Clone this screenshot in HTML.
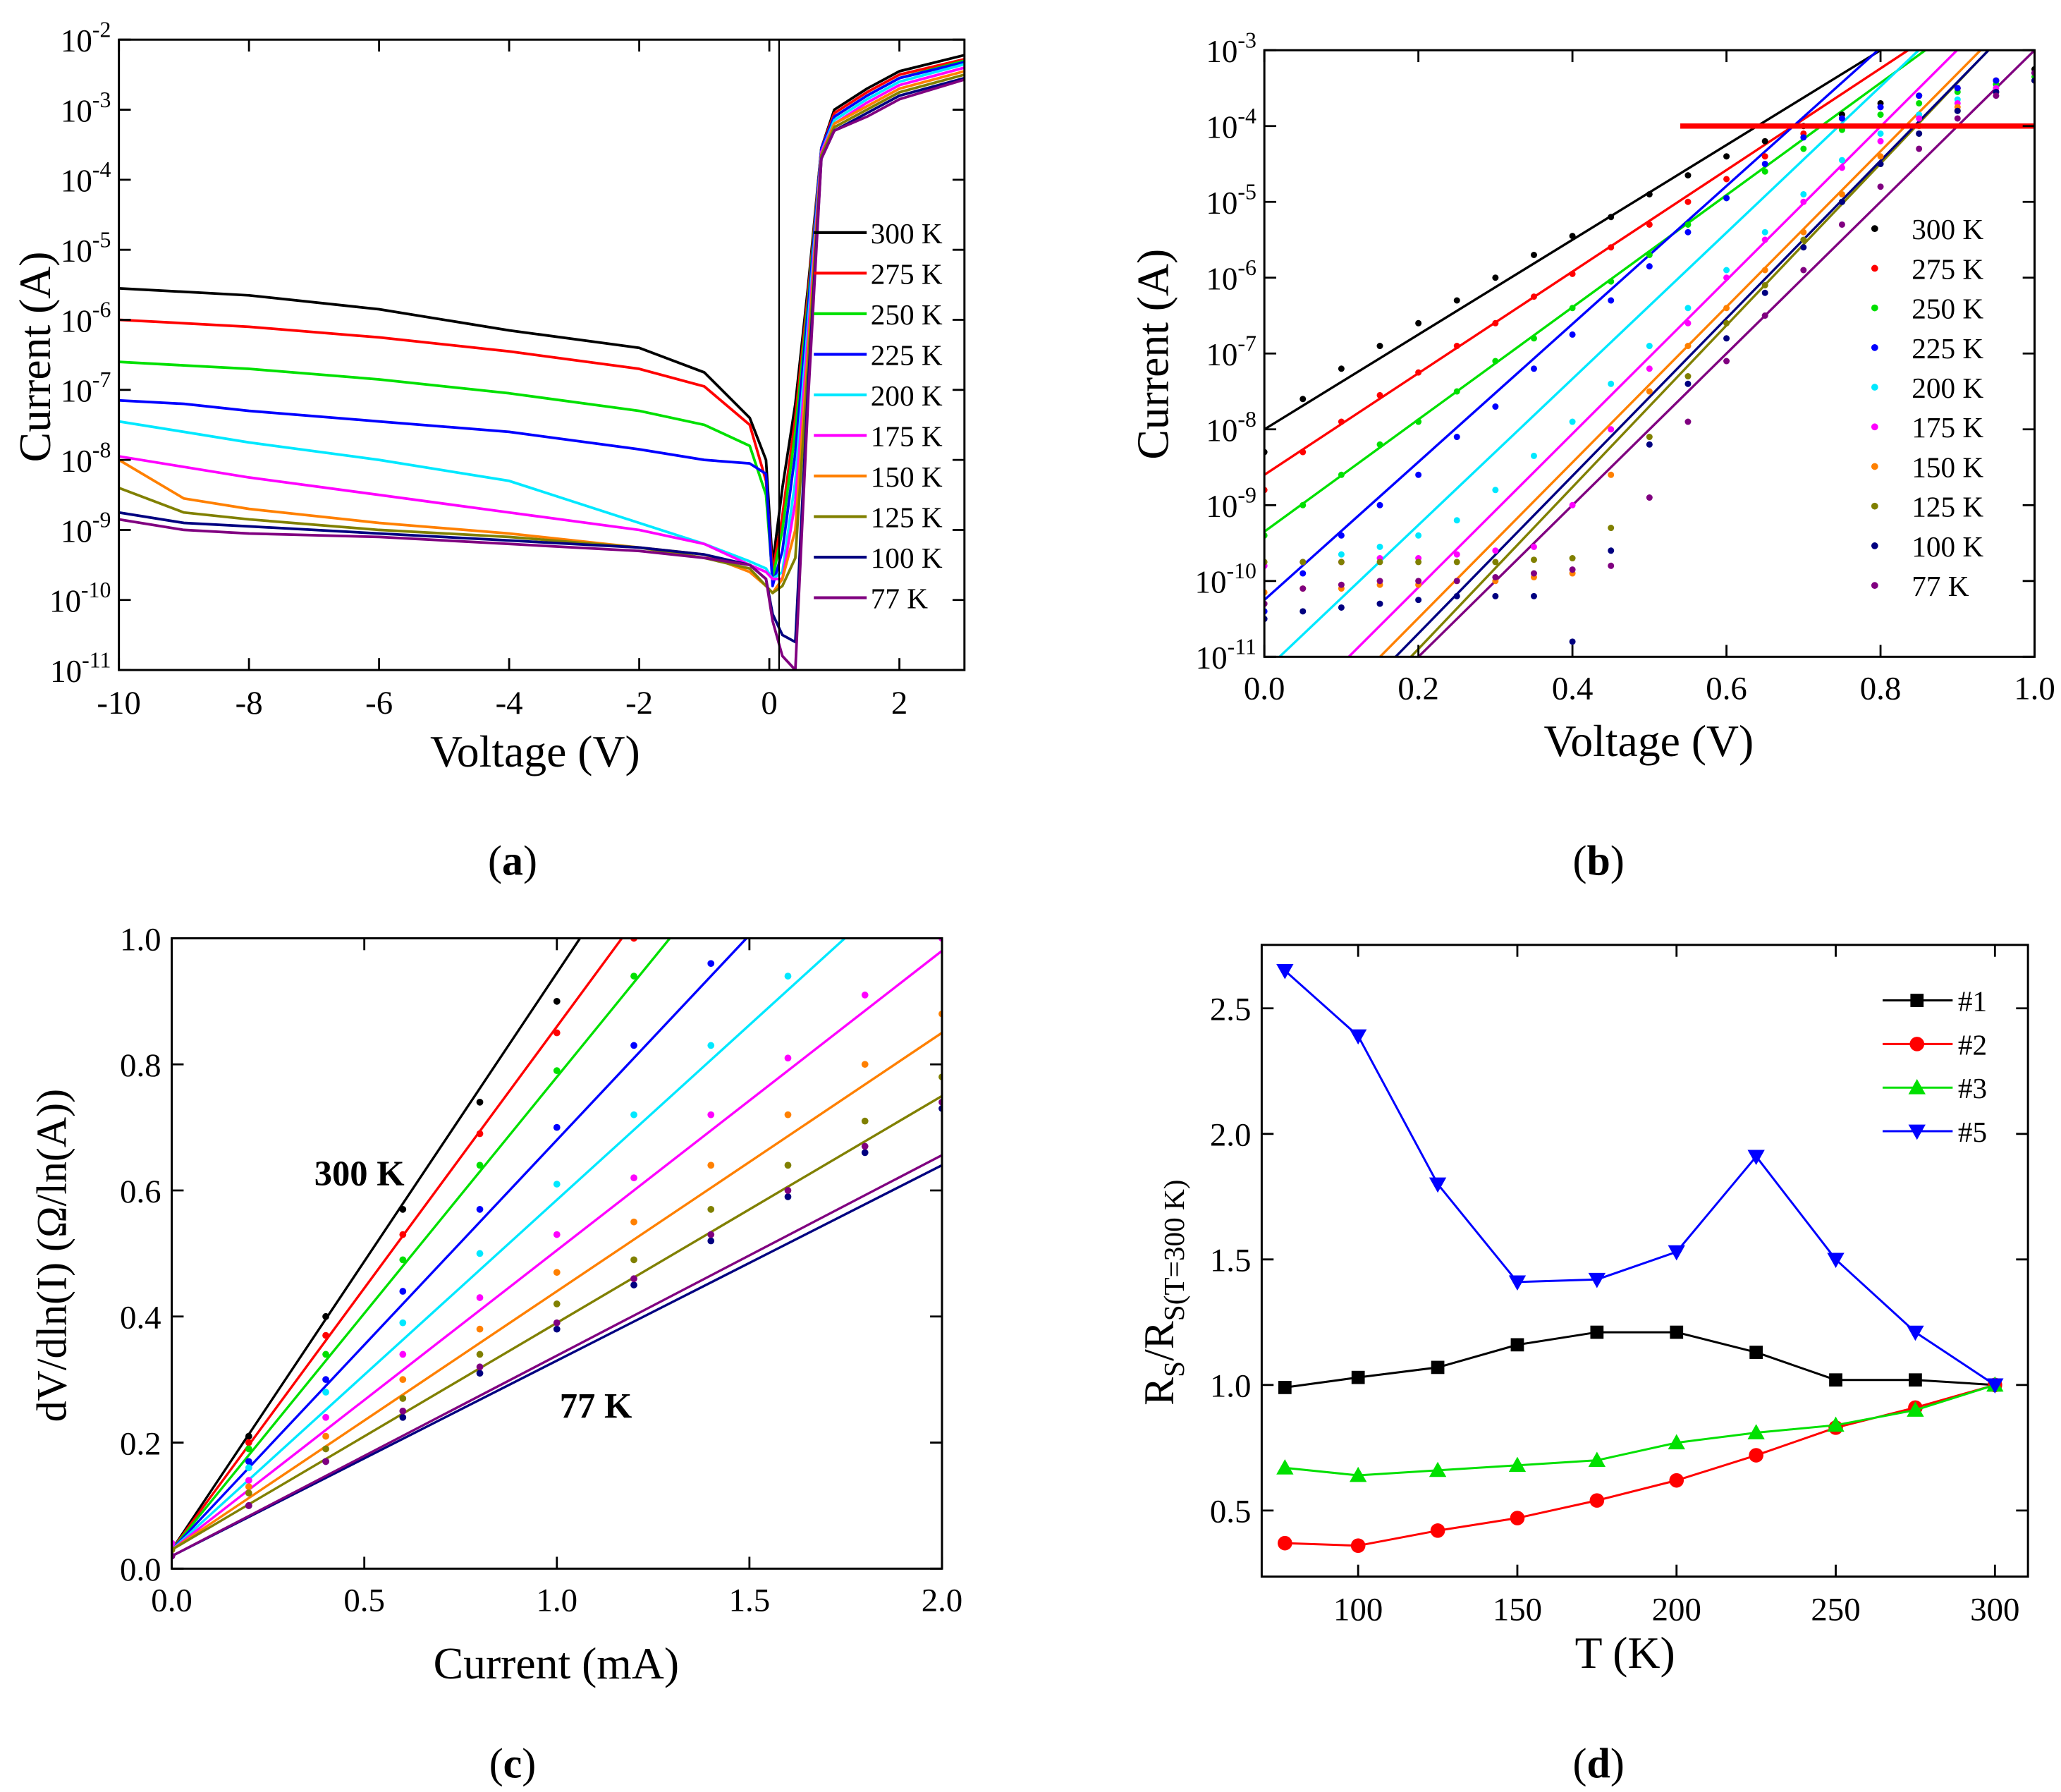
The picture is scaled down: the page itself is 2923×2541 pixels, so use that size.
<!DOCTYPE html>
<html><head><meta charset="utf-8"><title>I-V characteristics</title>
<style>
html,body{margin:0;padding:0;background:#fff;}
svg{display:block;font-family:"Liberation Serif",serif;}
</style></head>
<body>
<svg id="fig" width="2923" height="2541" viewBox="0 0 1560 1356" preserveAspectRatio="none" xmlns="http://www.w3.org/2000/svg"></svg>
<script>
// ---------- shared data ----------
const seriesNames = ["300 K","275 K","250 K","225 K","200 K","175 K","150 K","125 K","100 K","77 K"];
const seriesColors = ["#000000","#ff0000","#00e000","#0000ff","#00e8ff","#ff00ff","#ff8000","#808000","#000080","#800080"];

// Panel (a): voltages and log10(I) values
const aVolts = [-10,-9,-8,-6,-4,-2,-1,-0.3,-0.05,0.05,0.2,0.4,0.6,0.8,1.0,1.5,2,3];
const aLog300 = [-5.55,-5.6,-5.65,-5.85,-6.15,-6.4,-6.75,-7.4,-8.0,-9.5,-8.4,-7.2,-5.5,-3.55,-3.0,-2.7,-2.45,-2.22];
const aLog275 = [-6.0,-6.05,-6.1,-6.25,-6.45,-6.7,-6.95,-7.5,-8.3,-9.6,-8.8,-7.4,-5.6,-3.55,-3.05,-2.75,-2.5,-2.28];
const aLog250 = [-6.6,-6.65,-6.7,-6.85,-7.05,-7.3,-7.5,-7.8,-8.5,-9.7,-9.0,-7.6,-5.7,-3.55,-3.1,-2.8,-2.55,-2.3];
const aLog225 = [-7.15,-7.2,-7.3,-7.45,-7.6,-7.85,-8.0,-8.05,-8.2,-9.8,-9.3,-7.9,-5.8,-3.55,-3.1,-2.8,-2.55,-2.32];
const aLog200 = [-7.45,-7.6,-7.75,-8.0,-8.3,-8.9,-9.2,-9.45,-9.55,-9.7,-9.6,-8.3,-6.0,-3.6,-3.15,-2.85,-2.6,-2.35];
const aLog175 = [-7.95,-8.1,-8.25,-8.5,-8.75,-9.0,-9.2,-9.5,-9.6,-9.7,-9.7,-8.6,-6.2,-3.6,-3.2,-2.9,-2.65,-2.4];
const aLog150 = [-8.0,-8.55,-8.7,-8.9,-9.05,-9.25,-9.35,-9.6,-9.8,-9.9,-9.7,-9.0,-6.4,-3.65,-3.2,-2.95,-2.7,-2.45];
const aLog125 = [-8.4,-8.75,-8.85,-9.0,-9.1,-9.25,-9.4,-9.55,-9.8,-9.9,-9.8,-9.4,-6.6,-3.65,-3.25,-3.0,-2.75,-2.5];
const aLog100 = [-8.75,-8.9,-8.95,-9.05,-9.15,-9.25,-9.35,-9.5,-9.7,-10.2,-10.5,-10.6,-6.9,-3.7,-3.3,-3.05,-2.8,-2.55];
const aLog77  = [-8.85,-9.0,-9.05,-9.1,-9.2,-9.3,-9.4,-9.5,-9.7,-10.3,-10.8,-11,-7.1,-3.7,-3.3,-3.1,-2.85,-2.57];
const aSeries = [aLog300,aLog275,aLog250,aLog225,aLog200,aLog175,aLog150,aLog125,aLog100,aLog77];
const aXTicks = [-10,-8,-6,-4,-2,0,2];
const aYTicks = [-11,-10,-9,-8,-7,-6,-5,-4,-3,-2];

// Panel (b): measured log10(I) at V = 0..1 step 0.05, and fits (intercept, slope per V)
const bVolts = [0,0.05,0.1,0.15,0.2,0.25,0.3,0.35,0.4,0.45,0.5,0.55,0.6,0.65,0.7,0.75,0.8,0.85,0.9,0.95,1.0];
const bLog300 = [-8.3,-7.6,-7.2,-6.9,-6.6,-6.3,-6.0,-5.7,-5.45,-5.2,-4.9,-4.65,-4.4,-4.2,-4.0,-3.85,-3.7,-3.6,-3.5,-3.4,-3.25];
const bLog275 = [-8.8,-8.3,-7.9,-7.55,-7.25,-6.9,-6.6,-6.25,-5.95,-5.6,-5.3,-5.0,-4.7,-4.4,-4.1,-3.9,-3.75,-3.6,-3.5,-3.4,-3.3];
const bLog250 = [-9.4,-9.0,-8.6,-8.2,-7.9,-7.5,-7.1,-6.8,-6.4,-6.05,-5.7,-5.3,-4.95,-4.6,-4.3,-4.05,-3.85,-3.7,-3.55,-3.45,-3.35];
const bLog225 = [-10.4,-9.9,-9.4,-9.0,-8.6,-8.1,-7.7,-7.2,-6.75,-6.3,-5.85,-5.4,-4.95,-4.5,-4.15,-3.9,-3.75,-3.6,-3.5,-3.4,-3.3];
const bLog200 = [-9.8,-9.75,-9.65,-9.55,-9.4,-9.2,-8.8,-8.35,-7.9,-7.4,-6.9,-6.4,-5.9,-5.4,-4.9,-4.45,-4.1,-3.85,-3.65,-3.5,-3.4];
const bLog175 = [-9.8,-9.75,-9.75,-9.7,-9.7,-9.65,-9.6,-9.55,-9.0,-8.0,-7.2,-6.6,-6.0,-5.5,-5.0,-4.55,-4.2,-3.9,-3.7,-3.5,-3.4];
const bLog150 = [-10.15,-10.1,-10.1,-10.05,-10.05,-10.0,-10.0,-9.95,-9.9,-8.6,-7.5,-6.9,-6.4,-5.9,-5.4,-4.9,-4.4,-4.0,-3.75,-3.55,-3.4];
const bLog125 = [-9.75,-9.75,-9.75,-9.75,-9.75,-9.75,-9.75,-9.72,-9.7,-9.3,-8.1,-7.3,-6.6,-6.1,-5.5,-5.0,-4.5,-4.1,-3.8,-3.55,-3.4];
const bLog100 = [-10.5,-10.4,-10.35,-10.3,-10.25,-10.2,-10.2,-10.2,-10.8,-9.6,-8.2,-7.4,-6.8,-6.2,-5.6,-5.0,-4.5,-4.1,-3.8,-3.55,-3.4];
const bLog77  = [-10.3,-10.1,-10.05,-10.0,-10.0,-10.0,-9.95,-9.9,-9.85,-9.8,-8.9,-7.9,-7.1,-6.5,-5.9,-5.3,-4.8,-4.3,-3.9,-3.6,-3.3];
const bSeries = [bLog300,bLog275,bLog250,bLog225,bLog200,bLog175,bLog150,bLog125,bLog100,bLog77];
const bFitIntercept = [-8.0,-8.6,-9.35,-10.25,-11.19,-12.11,-12.54,-13.03,-12.77,-13.0];
const bFitSlope = [6.25,6.7,7.4,9.1,9.64,10.13,10.26,10.67,10.39,10.0];
const bRefLevel = -4;   // red horizontal reference at 1e-4 A
const bRefStart = 0.54;
const bXTicks = [0,0.2,0.4,0.6,0.8,1.0];
const bYTicks = [-11,-10,-9,-8,-7,-6,-5,-4,-3];

// Panel (c): measured dV/dlnI at I = 0..2 mA step 0.2, fits (intercept, slope)
const cCurrents = [0,0.2,0.4,0.6,0.8,1.0,1.2,1.4,1.6,1.8,2.0];
const c300 = [0.04,0.21,0.40,0.57,0.74,0.90,1.08,1.2,1.2,1.2,1.2];
const c275 = [0.04,0.20,0.37,0.53,0.69,0.85,1.0,1.2,1.2,1.2,1.2];
const c250 = [0.04,0.19,0.34,0.49,0.64,0.79,0.94,1.2,1.2,1.2,1.2];
const c225 = [0.04,0.17,0.30,0.44,0.57,0.70,0.83,0.96,1.2,1.2,1.2];
const c200 = [0.04,0.16,0.28,0.39,0.50,0.61,0.72,0.83,0.94,1.2,1.2];
const c175 = [0.04,0.14,0.24,0.34,0.43,0.53,0.62,0.72,0.81,0.91,1.0];
const c150 = [0.03,0.13,0.21,0.30,0.38,0.47,0.55,0.64,0.72,0.80,0.88];
const c125 = [0.03,0.12,0.19,0.27,0.34,0.42,0.49,0.57,0.64,0.71,0.78];
const c100 = [0.02,0.10,0.17,0.24,0.31,0.38,0.45,0.52,0.59,0.66,0.73];
const c77  = [0.02,0.10,0.17,0.25,0.32,0.39,0.46,0.53,0.60,0.67,0.74];
const cSeries = [c300,c275,c250,c225,c200,c175,c150,c125,c100,c77];
const cFitIntercept = [0.03,0.03,0.03,0.03,0.03,0.03,0.03,0.03,0.02,0.02];
const cFitSlope = [0.915,0.83,0.75,0.65,0.555,0.475,0.41,0.36,0.31,0.318];
const cXTicks = [0,0.5,1.0,1.5,2.0];
const cYTicks = [0,0.2,0.4,0.6,0.8,1.0];

// Panel (d)
const dTemps = [77,100,125,150,175,200,225,250,275,300];
const dS1 = [0.99,1.03,1.07,1.16,1.21,1.21,1.13,1.02,1.02,1.0];
const dS2 = [0.37,0.36,0.42,0.47,0.54,0.62,0.72,0.83,0.91,1.0];
const dS3 = [0.67,0.64,0.66,0.68,0.70,0.77,0.81,0.84,0.90,1.0];
const dS5 = [2.65,2.39,1.80,1.41,1.42,1.53,1.91,1.50,1.21,1.0];
const dNames = ["#1","#2","#3","#5"];
const dXTicks = [100,150,200,250,300];
const dYTicks = [0.5,1.0,1.5,2.0,2.5];

// ---------- helpers ----------
const NS = "http://www.w3.org/2000/svg";
const svg = document.getElementById("fig");
function el(tag, attrs, parent, text){
  const e = document.createElementNS(NS, tag);
  for (const k in attrs) e.setAttribute(k, attrs[k]);
  if (text !== undefined) e.textContent = text;
  (parent||svg).appendChild(e);
  return e;
}
function group(name){
  const g = document.createElementNS(NS,"g");
  
  
  svg.appendChild(g);
  return g;
}
function powText(g, x, y, exp, anchor, name){
  const t = el("text",{x:x,y:y,"font-size":24,"text-anchor":anchor||"end"},g);
  
  
  const a = document.createElementNS(NS,"tspan"); a.textContent="10"; t.appendChild(a);
  const b = document.createElementNS(NS,"tspan"); b.setAttribute("dy","-11"); b.setAttribute("font-size","17"); b.textContent=String(exp); t.appendChild(b);
  return t;
}
function frame(g,x0,y0,x1,y1){
  el("rect",{x:x0,y:y0,width:x1-x0,height:y1-y0,fill:"none",stroke:"#000","stroke-width":1.6},g);
}
function label(g, x, y, txt, size, name, extra){
  const a = Object.assign({x:x,y:y,"font-size":size,"text-anchor":"middle"}, extra||{});
  const t = el("text",a,g,txt);
  
  
  return t;
}
function poly(g, pts, color, w, name){
  const p = el("polyline",{points:pts.map(p=>p[0].toFixed(1)+","+p[1].toFixed(1)).join(" "),fill:"none",stroke:color,"stroke-width":w,"stroke-linejoin":"round"},g);
  
  
  return p;
}

// ================= Panel (a) =================
(function(){
  const g = group("panel-a");
  const X0=90,X1=730,Y0=30,Y1=507;
  const xa = v => X0 + (v+10)/13*(X1-X0);
  const ya = l => Y0 + (-2-l)/9*(Y1-Y0);
  const clip = el("clipPath",{id:"clipA"},g);
  el("rect",{x:X0,y:Y0,width:X1-X0,height:Y1-Y0},clip);
  const plot = el("g",{"clip-path":"url(#clipA)"},g);
  aSeries.forEach((s,i)=>{
    poly(plot, aVolts.map((v,k)=>[xa(v),ya(s[k])]), seriesColors[i], 2, "iv-curve-"+seriesNames[i].replace(" ","").toLowerCase());
  });
  // vertical line near zero
  const vl = el("line",{x1:xa(0.15),y1:Y0,x2:xa(0.15),y2:Y1,stroke:"#000","stroke-width":1.2},plot);
  
  
  frame(g,X0,Y0,X1,Y1);
  aXTicks.forEach(v=>{
    el("line",{x1:xa(v),y1:Y1,x2:xa(v),y2:Y1-9,stroke:"#000","stroke-width":1.5},g);
    el("line",{x1:xa(v),y1:Y0,x2:xa(v),y2:Y0+9,stroke:"#000","stroke-width":1.5},g);
    label(g, xa(v), Y1+33, String(v), 25, "x-tick-label");
  });
  aYTicks.forEach(l=>{
    el("line",{x1:X0,y1:ya(l),x2:X0+9,y2:ya(l),stroke:"#000","stroke-width":1.5},g);
    el("line",{x1:X1,y1:ya(l),x2:X1-9,y2:ya(l),stroke:"#000","stroke-width":1.5},g);
    powText(g, X0-6, ya(l)+9, l, "end", "y-tick-label");
  });
  label(g, 405, 580, "Voltage (V)", 34, "x-axis-title");
  label(g, 38, 270, "Current (A)", 34, "y-axis-title", {transform:"rotate(-90 38 270)"});
  seriesNames.forEach((n,i)=>{
    const y = 176 + i*30.7;
    const ln = el("line",{x1:616,y1:y,x2:656,y2:y,stroke:seriesColors[i],"stroke-width":2.2},g);
    
    
    label(g, 659, y+8, n, 22, "legend-entry", {"text-anchor":"start"});
  });
  const cap = label(g, 388, 662, "", 32, "caption-a");
  cap.innerHTML = '(<tspan font-weight="bold">a</tspan>)';
})();

// ================= Panel (b) =================
(function(){
  const g = group("panel-b");
  const X0=957,X1=1540,Y0=38,Y1=497;
  const xb = v => X0 + v*(X1-X0);
  const yb = l => Y0 + (-3-l)/8*(Y1-Y0);
  const clip = el("clipPath",{id:"clipB"},g);
  el("rect",{x:X0,y:Y0,width:X1-X0,height:Y1-Y0},clip);
  const plot = el("g",{"clip-path":"url(#clipB)"},g);
  bFitIntercept.forEach((b0,i)=>{
    const vEnd = 1.0, vStart = 0;
    poly(plot, [[xb(vStart), yb(b0+bFitSlope[i]*vStart)],[xb(vEnd), yb(b0+bFitSlope[i]*vEnd)]], seriesColors[i], 1.8, "fit-line-"+i);
  });
  bSeries.forEach((s,i)=>{
    s.forEach((l,k)=>{
      const c = el("circle",{cx:xb(bVolts[k]),cy:yb(l),r:2.4,fill:seriesColors[i]},plot);
      
      
    });
  });
  const ref = el("line",{x1:xb(bRefStart),y1:yb(bRefLevel),x2:X1,y2:yb(bRefLevel),stroke:"#ff0000","stroke-width":4},g);
  
  
  frame(g,X0,Y0,X1,Y1);
  bXTicks.forEach(v=>{
    el("line",{x1:xb(v),y1:Y1,x2:xb(v),y2:Y1-9,stroke:"#000","stroke-width":1.5},g);
    el("line",{x1:xb(v),y1:Y0,x2:xb(v),y2:Y0+9,stroke:"#000","stroke-width":1.5},g);
    label(g, xb(v), Y1+32, v.toFixed(1), 25, "x-tick-label");
  });
  bYTicks.forEach(l=>{
    el("line",{x1:X0,y1:yb(l),x2:X0+9,y2:yb(l),stroke:"#000","stroke-width":1.5},g);
    el("line",{x1:X1,y1:yb(l),x2:X1-9,y2:yb(l),stroke:"#000","stroke-width":1.5},g);
    powText(g, X0-6, yb(l)+9, l, "end", "y-tick-label");
  });
  label(g, 1248, 572, "Voltage (V)", 34, "x-axis-title");
  label(g, 884, 268, "Current (A)", 34, "y-axis-title", {transform:"rotate(-90 884 268)"});
  seriesNames.forEach((n,i)=>{
    const y = 173 + i*30;
    const c = el("circle",{cx:1419,cy:y,r:2.6,fill:seriesColors[i]},g);
    
    
    label(g, 1447, y+8, n, 22, "legend-entry", {"text-anchor":"start"});
  });
  const cap = label(g, 1210, 662, "", 32, "caption-b");
  cap.innerHTML = '(<tspan font-weight="bold">b</tspan>)';
})();

// ================= Panel (c) =================
(function(){
  const g = group("panel-c");
  const X0=130,X1=713,Y0=710,Y1=1187;
  const xc = i => X0 + i/2*(X1-X0);
  const yc = v => Y1 - v*(Y1-Y0);
  const clip = el("clipPath",{id:"clipC"},g);
  el("rect",{x:X0,y:Y0,width:X1-X0,height:Y1-Y0},clip);
  const plot = el("g",{"clip-path":"url(#clipC)"},g);
  cFitIntercept.forEach((b0,i)=>{
    poly(plot, [[xc(0),yc(b0)],[xc(2),yc(b0+cFitSlope[i]*2)]], seriesColors[i], 1.8, "fit-line-"+i);
  });
  cSeries.forEach((s,i)=>{
    s.forEach((v,k)=>{
      if (v>1.0) return;
      const c = el("circle",{cx:xc(cCurrents[k]),cy:yc(v),r:2.6,fill:seriesColors[i]},plot);
      
      
    });
  });
  frame(g,X0,Y0,X1,Y1);
  cXTicks.forEach(v=>{
    el("line",{x1:xc(v),y1:Y1,x2:xc(v),y2:Y1-9,stroke:"#000","stroke-width":1.5},g);
    el("line",{x1:xc(v),y1:Y0,x2:xc(v),y2:Y0+9,stroke:"#000","stroke-width":1.5},g);
    label(g, xc(v), Y1+32, v.toFixed(1), 25, "x-tick-label");
  });
  cYTicks.forEach(v=>{
    el("line",{x1:X0,y1:yc(v),x2:X0+9,y2:yc(v),stroke:"#000","stroke-width":1.5},g);
    el("line",{x1:X1,y1:yc(v),x2:X1-9,y2:yc(v),stroke:"#000","stroke-width":1.5},g);
    label(g, X0-8, yc(v)+9, v.toFixed(1), 25, "y-tick-label", {"text-anchor":"end"});
  });
  label(g, 421, 1270, "Current (mA)", 34, "x-axis-title");
  label(g, 50, 950, "dV/dln(I) (Ω/ln(A))", 32, "y-axis-title", {transform:"rotate(-90 50 950)"});
  label(g, 272, 897, "300 K", 27, "annotation-300k", {"font-weight":"bold"});
  label(g, 451, 1073, "77 K", 27, "annotation-77k", {"font-weight":"bold"});
  const cap = label(g, 388, 1345, "", 32, "caption-c");
  cap.innerHTML = '(<tspan font-weight="bold">c</tspan>)';
})();

// ================= Panel (d) =================
(function(){
  const g = group("panel-d");
  const X0=955,X1=1535,Y0=715,Y1=1193;
  const xd = t => 1028 + (t-100)*2.41;
  const yd = v => 1048 - (v-1)*190;
  const series = [dS1,dS2,dS3,dS5];
  const cols = ["#000000","#ff0000","#00e000","#0000ff"];
  function marker(k, x, y, parent){
    let m;
    if (k===0) m = el("rect",{x:x-5,y:y-5,width:10,height:10,fill:cols[k]},parent);
    else if (k===1) m = el("circle",{cx:x,cy:y,r:5.5,fill:cols[k]},parent);
    else if (k===2) m = el("polygon",{points:`${x},${y-6.5} ${x+6.5},${y+5} ${x-6.5},${y+5}`,fill:cols[k]},parent);
    else m = el("polygon",{points:`${x},${y+6.5} ${x+6.5},${y-5} ${x-6.5},${y-5}`,fill:cols[k]},parent);
    
    
  }
  series.forEach((s,k)=>{
    poly(g, dTemps.map((t,i)=>[xd(t),yd(s[i])]), cols[k], 1.6, "series-line-"+dNames[k].replace('#','s'));
    dTemps.forEach((t,i)=>marker(k, xd(t), yd(s[i]), g));
  });
  frame(g,X0,Y0,X1,Y1);
  dXTicks.forEach(t=>{
    el("line",{x1:xd(t),y1:Y1,x2:xd(t),y2:Y1-9,stroke:"#000","stroke-width":1.5},g);
    el("line",{x1:xd(t),y1:Y0,x2:xd(t),y2:Y0+9,stroke:"#000","stroke-width":1.5},g);
    label(g, xd(t), Y1+33, String(t), 25, "x-tick-label");
  });
  dYTicks.forEach(v=>{
    el("line",{x1:X0,y1:yd(v),x2:X0+9,y2:yd(v),stroke:"#000","stroke-width":1.5},g);
    el("line",{x1:X1,y1:yd(v),x2:X1-9,y2:yd(v),stroke:"#000","stroke-width":1.5},g);
    label(g, X0-8, yd(v)+9, v.toFixed(1), 25, "y-tick-label", {"text-anchor":"end"});
  });
  label(g, 1230, 1262, "T (K)", 34, "x-axis-title");
  const yt = label(g, 888, 978, "", 32, "y-axis-title", {transform:"rotate(-90 888 978)"});
  yt.innerHTML = 'R<tspan font-size="22" dy="8">S</tspan><tspan dy="-8">/R</tspan><tspan font-size="22" dy="8">S(T=300 K)</tspan>';
  dNames.forEach((n,k)=>{
    const y = 757 + k*33;
    const ln = el("line",{x1:1425,y1:y,x2:1478,y2:y,stroke:cols[k],"stroke-width":1.6},g);
    
    
    marker(k, 1451, y, g);
    label(g, 1482, y+8, n, 22, "legend-entry", {"text-anchor":"start"});
  });
  const cap = label(g, 1210, 1345, "", 32, "caption-d");
  cap.innerHTML = '(<tspan font-weight="bold">d</tspan>)';
})();
</script>
</body></html>
